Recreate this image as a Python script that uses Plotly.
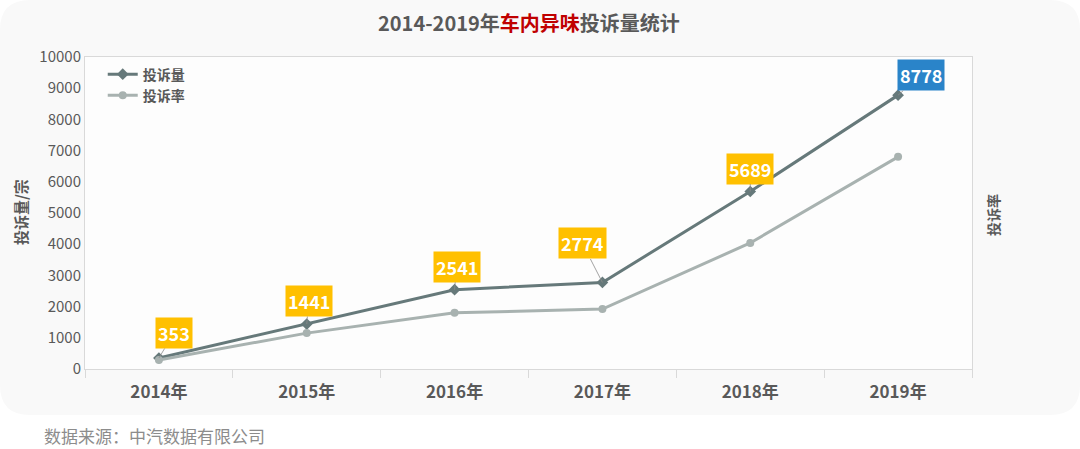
import plotly.graph_objects as go

years = ["2014年", "2015年", "2016年", "2017年", "2018年", "2019年"]
complaints = [353, 1441, 2541, 2774, 5689, 8778]
rate_plotted = [290, 1150, 1800, 1920, 4040, 6800]
label_offsets_x = [15, 2, 2, -20, 0, 23]
label_offsets_y = [-25, -23, -23, -39, -23, -20]
label_colors = ["#FFC000", "#FFC000", "#FFC000", "#FFC000", "#FFC000", "#2A84C9"]

FONT = "Noto Sans CJK SC"
W, H = 1080, 449
L, R, T, B = 85, 108, 57, 80
pw, ph = W - L - R, H - T - B

def px_x(p):
    return (p - L) / pw

def px_y(p):
    return (H - B - p) / ph

fig = go.Figure()
fig.add_trace(go.Scatter(
    x=years, y=complaints, name="投诉量", mode="lines+markers",
    line=dict(color="#66797A", width=3),
    marker=dict(symbol="diamond", size=9, color="#66797A"),
))
fig.add_trace(go.Scatter(
    x=years, y=rate_plotted, name="投诉率", mode="lines+markers",
    line=dict(color="#A8B2B0", width=3),
    marker=dict(symbol="circle", size=8, color="#A8B2B0"),
))

# rounded card background
x0, x1 = px_x(0), px_x(W)
y0, y1 = px_y(415), px_y(0)
rx, ry = 30 / pw, 30 / ph
path = (f"M {x0+rx},{y1} L {x1-rx},{y1} Q {x1},{y1} {x1},{y1-ry} "
        f"L {x1},{y0+ry} Q {x1},{y0} {x1-rx},{y0} L {x0+rx},{y0} "
        f"Q {x0},{y0} {x0},{y0+ry} L {x0},{y1-ry} Q {x0},{y1} {x0+rx},{y1} Z")
shapes = [dict(type="path", path=path, xref="paper", yref="paper",
               fillcolor="#F9F9F9", line=dict(width=0), layer="below"),
          dict(type="rect", xref="paper", yref="paper", x0=0, x1=1, y0=0, y1=1,
               fillcolor="#FDFDFD", line=dict(width=0), layer="below")]

annotations = []
for yr, v, ax, ay, c in zip(years, complaints, label_offsets_x, label_offsets_y, label_colors):
    annotations.append(dict(
        x=yr, y=v, xref="x", yref="y", text=f"<b>{v}</b>",
        showarrow=True, arrowhead=0, arrowwidth=0.8, arrowcolor="#8C8C8C",
        ax=ax, ay=ay, bgcolor=c, borderpad=2,
        font=dict(family=FONT, size=18, color="white"),
    ))

annotations += [
    dict(x=0.5, y=px_y(23), xref="paper", yref="paper", showarrow=False,
         yanchor="middle", xanchor="center",
         text="<b>2014-2019年<span style='color:#C00000'>车内异味</span>投诉量统计</b>",
         font=dict(family=FONT, size=20, color="#595959")),
    dict(x=px_x(20), y=px_y(212), xref="paper", yref="paper", showarrow=False,
         yanchor="middle", xanchor="center",
         text="<b>投诉量/宗</b>", textangle=-90,
         font=dict(family=FONT, size=15, color="#595959")),
    dict(x=px_x(993), y=px_y(215), xref="paper", yref="paper", showarrow=False,
         yanchor="middle", xanchor="center",
         text="<b>投诉率</b>", textangle=-90,
         font=dict(family=FONT, size=14, color="#595959")),
    dict(x=px_x(42), y=px_y(435), xref="paper", yref="paper", showarrow=False,
         xanchor="left", yanchor="middle", text="数据来源：中汽数据有限公司",
         font=dict(family=FONT, size=17, color="#8C8C8C")),
]

fig.update_layout(
    width=W, height=H,
    margin=dict(l=L, r=R, t=T, b=B),
    paper_bgcolor="white", plot_bgcolor="white",
    shapes=shapes, annotations=annotations,
    font=dict(family=FONT, color="#595959"),
    legend=dict(x=0.02, y=0.995, xanchor="left", yanchor="top",
                bgcolor="rgba(0,0,0,0)", tracegroupgap=0,
                font=dict(family=FONT, size=14, color="#595959", weight="bold")),
    xaxis=dict(range=[-0.5, 5.5], showgrid=False, showline=True, linecolor="#D9D9D9", linewidth=1,
               mirror=True, ticks="outside", tickson="boundaries", ticklen=8,
               tickcolor="#D9D9D9", ticklabelstandoff=8,
               tickfont=dict(family=FONT, size=17, color="#595959", weight="bold")),
    yaxis=dict(range=[0, 10000], dtick=1000, tickformat="d", showgrid=False, showline=True,
               linecolor="#D9D9D9", mirror=True, zeroline=False,
               tickfont=dict(family=FONT, size=15, color="#595959"), ticklen=0),
)

fig.write_html("out.html")
